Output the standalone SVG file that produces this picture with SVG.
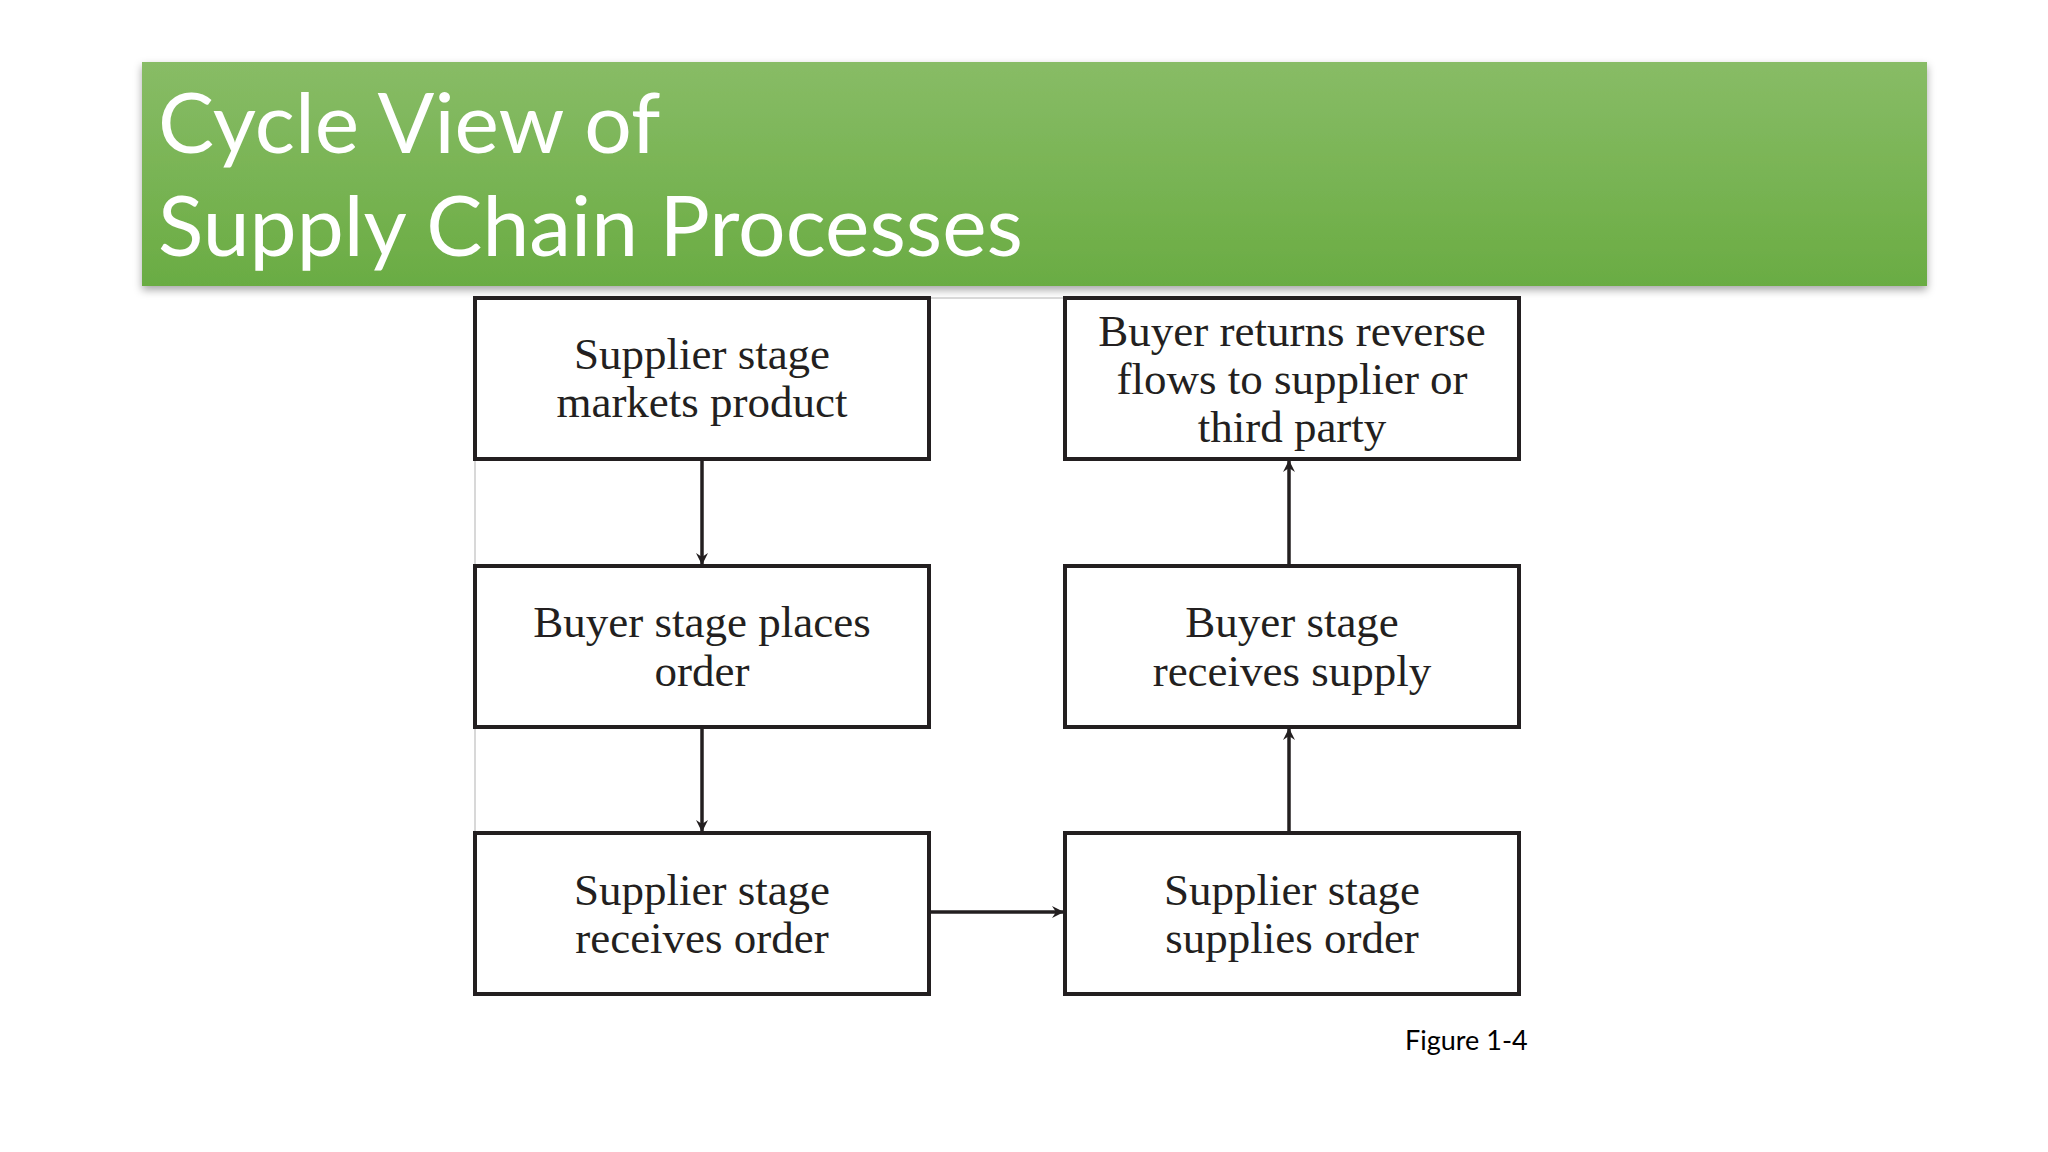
<svg xmlns="http://www.w3.org/2000/svg" width="2048" height="1152" viewBox="0 0 2048 1152">
<defs>
<linearGradient id="g" x1="0" y1="0" x2="0" y2="1"><stop offset="0" stop-color="#88bc66"/><stop offset="1" stop-color="#6aac43"/></linearGradient>
<filter id="sh" x="-5%" y="-10%" width="110%" height="130%"><feDropShadow dx="0" dy="4" stdDeviation="4" flood-color="#000" flood-opacity="0.35"/></filter>
<marker id="a" viewBox="0 0 12 12" refX="11" refY="6" markerWidth="12" markerHeight="12" markerUnits="userSpaceOnUse" orient="auto"><path d="M0,0 L12,6 L0,12 L4,6 Z" fill="#231f20"/></marker>
</defs>
<style>
.b{fill:#fff;stroke:#231f20;stroke-width:4}
.t{font-family:"Liberation Serif",serif;font-size:45px;fill:#231f20;text-anchor:middle}
.c{stroke:#231f20;stroke-width:3.5;fill:none;marker-end:url(#a)}
.h{font-family:Lato,"Liberation Sans",sans-serif;font-size:84px;fill:#fff}
</style>
<rect width="2048" height="1152" fill="#fff"/>
<g id="banner"><rect x="142" y="62" width="1785" height="224" fill="url(#g)" filter="url(#sh)"/>
<text class="h" x="158" y="153">Cycle View of</text><text class="h" x="158" y="256">Supply Chain Processes</text></g>
<path d="M475 298H1519M475 298V994" stroke="#ccc" stroke-width="1.5"/>
<g id="n1"><rect class="b" x="475" y="298" width="454" height="161"/><text class="t"><tspan x="702" y="369">Supplier stage</tspan><tspan x="702" y="417">markets product</tspan></text></g>
<g id="n2"><rect class="b" x="475" y="566" width="454" height="161"/><text class="t"><tspan x="702" y="637">Buyer stage places</tspan><tspan x="702" y="686">order</tspan></text></g>
<g id="n3"><rect class="b" x="475" y="833" width="454" height="161"/><text class="t"><tspan x="702" y="905">Supplier stage</tspan><tspan x="702" y="953">receives order</tspan></text></g>
<g id="n4"><rect class="b" x="1065" y="833" width="454" height="161"/><text class="t"><tspan x="1292" y="905">Supplier stage</tspan><tspan x="1292" y="953">supplies order</tspan></text></g>
<g id="n5"><rect class="b" x="1065" y="566" width="454" height="161"/><text class="t"><tspan x="1292" y="637">Buyer stage</tspan><tspan x="1292" y="686">receives supply</tspan></text></g>
<g id="n6"><rect class="b" x="1065" y="298" width="454" height="161"/><text class="t"><tspan x="1292" y="346">Buyer returns reverse</tspan><tspan x="1292" y="394">flows to supplier or</tspan><tspan x="1292" y="442">third party</tspan></text></g>
<g id="connectors">
<path class="c" d="M702 461V564"/>
<path class="c" d="M702 729V831"/>
<path class="c" d="M931 912H1063"/>
<path class="c" d="M1289 831V729"/>
<path class="c" d="M1289 564V461"/>
</g>
<text x="1405" y="1050" font-family="Lato,'Liberation Sans',sans-serif" font-size="27" fill="#000">Figure 1-4</text>
</svg>
